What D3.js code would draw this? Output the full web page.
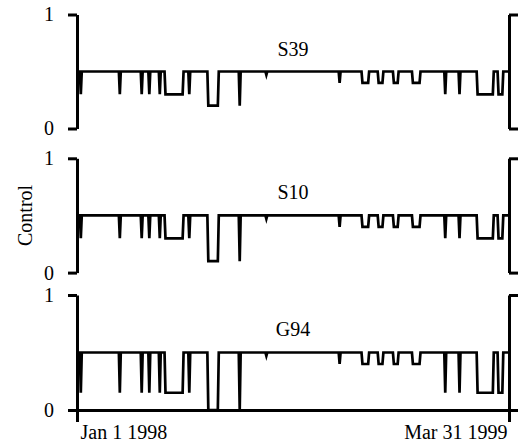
<!DOCTYPE html>
<html><head><meta charset="utf-8">
<script src="https://cdn.jsdelivr.net/npm/d3@7"></script>
<style>
body{margin:0;background:#fff}
text{font-family:"Liberation Serif","Times New Roman",serif;fill:#000}
</style>
</head><body>
<svg id="c" width="518" height="447"></svg>
<script>
// ---- data ----
const startDate = "1998-01-01";
const endDate = "1999-03-31";
// days after start of each vertex of the control curve (shared by all series)
const vertexDays = [0,3,4,5, 44,45,46, 67,68,69, 75,76,77, 86,87,88, 92,93,111,112,
  117,118,119, 137,138,148,149, 170,171,172, 198,199,200, 275,276,277,
  299,300,306,307, 316,317,321,322, 332,333,337,338, 352,353,360,361,
  386,387,388, 401,402,403, 420,421,437,438, 442,443,447,448, 454];
const seriesNames = ["S39","S10","G94"];
const s39 = [.5,.5,.3,.5, .5,.3,.5, .5,.3,.5, .5,.3,.5, .5,.3,.5, .5,.3,.3,.5,
  .5,.3,.5, .5,.2,.2,.5, .5,.2,.5, .5,.47,.5, .5,.4,.5,
  .5,.4,.4,.5, .5,.4,.4,.5, .5,.4,.4,.5, .5,.4,.4,.5,
  .5,.3,.5, .5,.3,.5, .5,.3,.3,.5, .5,.3,.3,.5, .5];
const s10 = [.5,.5,.3,.5, .5,.3,.5, .5,.3,.5, .5,.3,.5, .5,.3,.5, .5,.3,.3,.5,
  .5,.3,.5, .5,.1,.1,.5, .5,.1,.5, .5,.47,.5, .5,.4,.5,
  .5,.4,.4,.5, .5,.4,.4,.5, .5,.4,.4,.5, .5,.4,.4,.5,
  .5,.3,.5, .5,.3,.5, .5,.3,.3,.5, .5,.3,.3,.5, .5];
const g94 = [.5,.5,.15,.5, .5,.15,.5, .5,.15,.5, .5,.15,.5, .5,.15,.5, .5,.15,.15,.5,
  .5,.15,.5, .5,0,0,.5, .5,0,.5, .5,.47,.5, .5,.4,.5,
  .5,.4,.4,.5, .5,.4,.4,.5, .5,.4,.4,.5, .5,.4,.4,.5,
  .5,.15,.5, .5,.15,.5, .5,.15,.15,.5, .5,.15,.15,.5, .5];
const yTicks = [0,1];
const xTickLabels = ["Jan 1 1998","Mar 31 1999"];
const yLabel = "Control";

// ---- drawing ----
const parse = d3.timeParse("%Y-%m-%d");
const t0 = parse(startDate), t1 = parse(endDate);
const svg = d3.select("#c");
const x = d3.scaleTime().domain([t0,t1]).range([77,509]);
const panels = [[14.5,128.5],[158.3,272.6],[295,410]];
const allSeries = [s39,s10,g94];
const SW = 2.7, AW = 3;
const FONT = "Liberation Serif, Times New Roman, serif";

allSeries.forEach((vals,i)=>{
  const [top,bot] = panels[i];
  const y = d3.scaleLinear().domain([0,1]).range([bot,top]);
  const pts = vertexDays.map((d,k)=>({t:d3.timeDay.offset(t0,d), v:vals[k]}));
  const g = svg.append("g");
  g.append("path").datum(pts)
    .attr("fill","none").attr("stroke","#000").attr("stroke-width",SW)
    .attr("d", d3.line().x(d=>x(d.t)).y(d=>y(d.v)));

  const la = g.append("g").attr("transform",`translate(77,0)`)
    .call(d3.axisLeft(y).tickValues(yTicks).tickSize(9).tickSizeOuter(0).tickPadding(14).tickFormat(d3.format("d")));
  const ra = g.append("g").attr("transform",`translate(509,0)`)
    .call(d3.axisRight(y).tickValues(yTicks).tickSize(9).tickSizeOuter(0).tickFormat(""));
  [la,ra].forEach(a=>{
    a.selectAll("path,line").attr("stroke","#000").attr("stroke-width",AW);
    a.selectAll("text").attr("font-size",20).attr("font-family",FONT);
  });

  g.append("text").attr("x",(77+509)/2).attr("y",top+41)
    .attr("text-anchor","middle").attr("font-size",20).text(seriesNames[i]);

  if(i===2){
    const xa = g.append("g").attr("transform",`translate(0,${bot})`)
      .call(d3.axisBottom(x).tickValues([t0,t1]).tickSize(12).tickSizeOuter(0)
        .tickPadding(3).tickFormat((d,k)=>xTickLabels[k]));
    xa.selectAll("path,line").attr("stroke","#000").attr("stroke-width",AW);
    xa.selectAll("text").attr("font-size",20).attr("font-family",FONT)
      .attr("text-anchor",(d,k)=>k===0?"start":"end")
      .attr("dx",(d,k)=>k===0?3:-2);
  }
});

svg.append("text")
  .attr("transform",`translate(32,${(panels[1][0]+panels[1][1])/2}) rotate(-90)`)
  .attr("text-anchor","middle").attr("font-size",20).text(yLabel);
</script>
</body></html>
